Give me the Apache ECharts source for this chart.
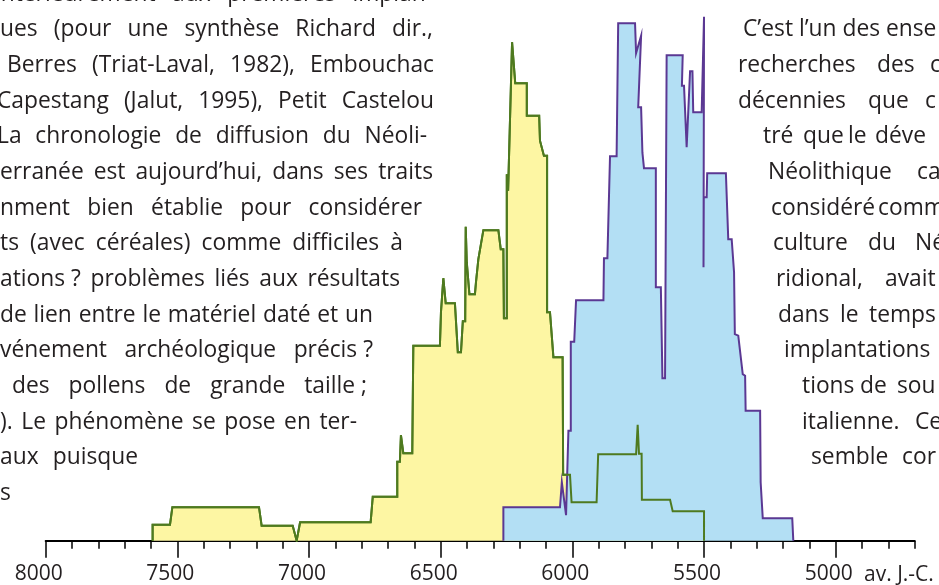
<!DOCTYPE html>
<html>
<head>
<meta charset="utf-8">
<script src="https://cdn.jsdelivr.net/npm/echarts@6/dist/echarts.min.js"></script>
<style>
  html, body { margin: 0; padding: 0; background: #fff; }
  #main { width: 939px; height: 585px; }
</style>
</head>
<body>
<div id="main"></div>
<script>
// courbe jaune (ancienne) - années av. J.-C. et hauteur relative
const yellowYears = [7594, 7594, 7528, 7519, 7190, 7180, 7062, 7047, 7034, 6766, 6758, 6665, 6665, 6655, 6651, 6642,
  6608, 6604, 6503, 6499, 6492, 6490, 6481, 6446, 6435, 6423, 6416, 6407, 6405, 6401, 6395, 6391, 6370, 6366, 6360,
  6357, 6351, 6338, 6281, 6272, 6262, 6260, 6249, 6249, 6246, 6244, 6229, 6217, 6173, 6173, 6126, 6123, 6108, 6096,
  6096, 6085, 6072, 6037, 6035, 6009, 6003, 5908, 5902, 5758, 5752, 5747, 5737, 5736, 5629, 5619, 5500, 5500]
const yellowValues = [0, 3.2, 3.2, 6.7, 6.7, 3.0, 3.0, 0, 3.7, 3.7, 8.8, 8.8, 15.8, 15.8, 21.1, 17.5,
  17.5, 39, 39, 45.7, 45.7, 52.5, 47.5, 47.5, 37.7, 37.7, 43.9, 43.9, 62.8, 55.7, 55.7, 49.3, 49.3, 51.7, 51.7,
  56.3, 56.3, 62.1, 62.1, 58.3, 58.3, 44.5, 44.5, 73.3, 73.3, 70, 99.7, 91.5, 91.5, 85, 85, 80, 77, 77,
  45.7, 45.7, 36.7, 36.7, 13.2, 13.2, 7.7, 7.7, 17.3, 17.3, 23.2, 17.4, 17.4, 8.2, 8.2, 5.9, 5.9, 0]

// courbe bleue (récente)
const blueYears = [6262, 6262, 6047, 6040, 6024, 6015, 6006, 6006, 5993, 5986, 5882, 5880, 5867, 5857, 5832, 5826,
  5762, 5758, 5751, 5739, 5750, 5739, 5734, 5732, 5728, 5683, 5683, 5664, 5658, 5648, 5642, 5581, 5584, 5576, 5566,
  5553, 5544, 5541, 5509, 5500, 5502, 5501, 5490, 5488, 5417, 5408, 5395, 5386, 5383, 5370, 5353, 5344, 5342, 5287,
  5285, 5279, 5277, 5165, 5161]
const blueValues = [0, 6.7, 6.7, 11.7, 5.1, 22, 22, 39.8, 39.8, 48.1, 48.1, 56.5, 56.5, 76.9, 76.9, 103.5,
  103.5, 97.5, 97.5, 101, 86.7, 86.7, 77.6, 77.6, 74.5, 74.5, 50.7, 50.7, 32.5, 32.5, 97.1, 97.1, 91, 91, 78.7,
  93.9, 93.9, 85.7, 85.7, 104.8, 54.7, 68.7, 68.7, 73.5, 73.5, 60.3, 60.3, 53.7, 41.3, 41, 33.3, 33, 26, 26,
  11.7, 11.7, 4.5, 4.5, 0]

const majorTicks = [8000, 7500, 7000, 6500, 6000, 5500, 5000]

// texte courant autour de la figure
const leftLines = [
  ['antérieurement aux premières implan-', -12, 433],
  ['ues (pour une synthèse Richard dir.,', 0, 433],
  ['Berres (Triat-Laval, 1982), Embouchac', 7, 434],
  ['Capestang (Jalut, 1995), Petit Castelou', -3, 434],
  ['La chronologie de diffusion du Néoli-', -3, 427],
  ['erranée est aujourd’hui, dans ses traits', 0, 433],
  ['nment bien établie pour considérer', 0, 422],
  ['ts (avec céréales) comme difficiles à', 0, 403],
  ['ations\u00a0? problèmes liés aux résultats', 0, 400],
  ['de lien entre le matériel daté et un', 0, 373],
  ['vénement archéologique précis\u00a0?', 0, 373],
  ['des pollens de grande taille\u00a0;', 12, 367],
  ['). Le phénomène se pose en ter-', 0, 357],
  ['aux puisque', 0, 138],
  ['s', 0, 10]
]
const rightLines = [
  [1, [['C’est l’un des ense', 743]]],
  [2, [['recherches', 738], ['des', 877], ['c', 930]]],
  [3, [['décennies', 738], ['que', 868], ['c', 925]]],
  [4, [['tré', 763], ['que', 803], ['le', 848], ['déve', 875]]],
  [5, [['Néolithique', 768], ['ca', 917]]],
  [6, [['considéré', 771], ['comm', 878]]],
  [7, [['culture', 773], ['du', 868], ['Né', 915]]],
  [8, [['ridional,', 776], ['avait', 885]]],
  [9, [['dans', 778], ['le', 840], ['temps', 869]]],
  [10, [['implantations', 784]]],
  [11, [['tions', 802], ['de', 860], ['sou', 897]]],
  [12, [['italienne.', 802], ['Ce', 915]]],
  [13, [['semble', 811], ['cor', 902]]]
]

const FONT = '"Open Sans", sans-serif'
const FS = 22.8
const TXT = '#231f20'
const GREEN = '#4e7a1f'
const YELLOW = '#fdf6a3'
const BLUE = '#b3dff4'
const PURPLE = '#5b3893'

const yellowData = yellowYears.map((y, i) => [y, yellowValues[i]])
const blueData = blueYears.map((y, i) => [y, blueValues[i]])

function baseY (i) {
  return 1.7 + 35.64 * i
}

let ctx = document.createElement('canvas').getContext('2d')
ctx.font = FS + 'px ' + FONT

function wordText (str, x, i) {
  return {
    type: 'text',
    silent: true,
    x: x,
    y: baseY(i) - 0.388 * FS + 1.5,
    style: { text: str, fontSize: FS, fontFamily: FONT, fill: TXT, align: 'left', verticalAlign: 'middle' }
  }
}

let elements = []
leftLines.forEach((ln, i) => {
  let words = ln[0].split(' ')
  let widths = words.map(w => ctx.measureText(w).width)
  let sum = widths.reduce((a, b) => a + b, 0)
  let gap = words.length > 1 ? (ln[2] - ln[1] - sum) / (words.length - 1) : 0
  let x = ln[1]
  words.forEach((w, k) => {
    elements.push(wordText(w, x, i))
    x += widths[k] + gap
  })
})
rightLines.forEach(ln => {
  ln[1].forEach(w => elements.push(wordText(w[0], w[1], ln[0])))
})
elements.push({
  type: 'text',
  silent: true,
  x: 864,
  y: 581.7 - 0.388 * 21 + 1,
  style: { text: 'av. J.-C.', fontSize: 21, fontFamily: FONT, fill: TXT, align: 'left', verticalAlign: 'middle' }
})

let option = {
  animation: false,
  grid: { left: 45.7, right: 24.3, top: 10.7, bottom: 44.3 },
  xAxis: [
    {
      type: 'value',
      min: 4700,
      max: 8000,
      interval: 100,
      inverse: true,
      axisLine: { lineStyle: { color: '#000', width: 2 } },
      axisTick: { length: 8, lineStyle: { color: '#000', width: 1.5 } },
      axisLabel: { show: false },
      splitLine: { show: false }
    },
    {
      type: 'value',
      position: 'bottom',
      min: 4700,
      max: 8000,
      interval: 100,
      inverse: true,
      axisLine: { show: false },
      axisTick: { customValues: majorTicks, length: 17, lineStyle: { color: '#000', width: 1.5 } },
      axisLabel: {
        customValues: majorTicks,
        formatter: v => String(v),
        margin: 23,
        padding: [0, 14, 0, 0],
        fontSize: 21,
        fontFamily: FONT,
        color: TXT
      },
      splitLine: { show: false }
    }
  ],
  yAxis: { type: 'value', min: 0, max: 106, show: false },
  graphic: { elements: elements },
  series: [
    {
      type: 'line',
      data: yellowData,
      symbol: 'none',
      z: 2,
      lineStyle: { color: GREEN, width: 2, join: 'miter' },
      areaStyle: { color: YELLOW, opacity: 1 }
    },
    {
      type: 'line',
      data: blueData,
      symbol: 'none',
      z: 3,
      lineStyle: { color: PURPLE, width: 2, join: 'miter' },
      areaStyle: { color: BLUE, opacity: 1 }
    },
    {
      // contour vert repassé par-dessus le bleu
      type: 'line',
      data: yellowData,
      symbol: 'none',
      z: 4,
      lineStyle: { color: GREEN, width: 2, join: 'miter' }
    }
  ]
}

let chart = echarts.init(document.getElementById('main'))
chart.setOption(option)
</script>
</body>
</html>
